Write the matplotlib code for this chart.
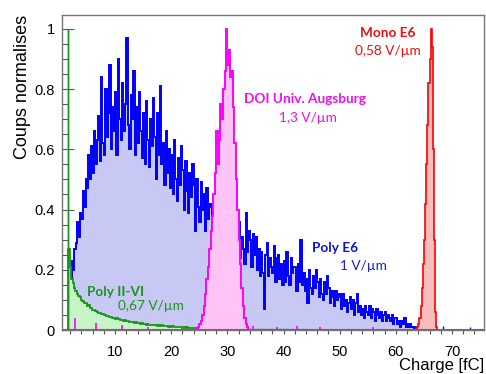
import numpy as np
import matplotlib.pyplot as plt

plt.rcParams['font.family'] = ['Liberation Sans', 'DejaVu Sans']

# Poly E6, 1 V/um : bins de 0.25 fC de 2 a 64 fC
poly_e6_start = 2.0
poly_e6 = [
    0.17, 0.23, 0.20, 0.27,  0.29, 0.36, 0.31, 0.39,  # 2-3
    0.37, 0.46, 0.41, 0.50,  0.47, 0.58, 0.50, 0.61,  # 4-5
    0.52, 0.66, 0.55, 0.63,  0.71, 0.56, 0.84, 0.62,  # 6-7
    0.58, 0.80, 0.64, 0.72,  0.88, 0.60, 0.74, 0.66,  # 8-9
    0.79, 0.58, 0.90, 0.70,  0.63, 0.82, 0.66, 0.75,  # 10-11
    0.97, 0.68, 0.60, 0.78,  0.70, 0.86, 0.58, 0.74,  # 12-13
    0.62, 0.79, 0.66, 0.57,  0.72, 0.55, 0.76, 0.63,  # 14-15
    0.54, 0.70, 0.61, 0.77,  0.64, 0.50, 0.72, 0.58,  # 16-17
    0.81, 0.55, 0.62, 0.48,  0.66, 0.52, 0.60, 0.47,  # 18-19
    0.58, 0.45, 0.63, 0.50,  0.43, 0.57, 0.48, 0.61,  # 20-21
    0.53, 0.40, 0.56, 0.46,  0.39, 0.52, 0.44, 0.55,  # 22-23
    0.48, 0.33, 0.50, 0.41,  0.36, 0.49, 0.40, 0.45,  # 24-25
    0.33, 0.47, 0.37, 0.42,  0.41, 0.31, 0.44, 0.35,  # 26-27
    0.30, 0.40, 0.33, 0.38,  0.37, 0.29, 0.35, 0.30,  # 28-29
    0.28, 0.35, 0.31, 0.36,  0.34, 0.26, 0.33, 0.29,  # 30-31
    0.36, 0.24, 0.31, 0.27,  0.22, 0.39, 0.26, 0.33,  # 32-33
    0.30, 0.21, 0.32, 0.25,  0.31, 0.20, 0.27, 0.18,  # 34-35
    0.26, 0.19, 0.07, 0.25,  0.29, 0.18, 0.24, 0.21,  # 36-37
    0.19, 0.28, 0.16, 0.24,  0.25, 0.17, 0.22, 0.15,  # 38-39
    0.23, 0.16, 0.26, 0.18,  0.15, 0.24, 0.19, 0.21,  # 40-41
    0.21, 0.13, 0.22, 0.16,  0.30, 0.15, 0.19, 0.13,  # 42-43
    0.17, 0.09, 0.20, 0.14,  0.12, 0.18, 0.14, 0.20,  # 44-45
    0.16, 0.11, 0.17, 0.12,  0.10, 0.16, 0.12, 0.18,  # 46-47
    0.14, 0.09, 0.13, 0.11,  0.08, 0.13, 0.10, 0.12,  # 48-49
    0.11, 0.07, 0.12, 0.08,  0.10, 0.06, 0.09, 0.11,  # 50-51
    0.07, 0.10, 0.05, 0.09,  0.12, 0.06, 0.08, 0.05,  # 52-53
    0.07, 0.04, 0.08, 0.06,  0.05, 0.08, 0.04, 0.07,  # 54-55
    0.06, 0.03, 0.07, 0.05,  0.04, 0.06, 0.03, 0.05,  # 56-57
    0.06, 0.03, 0.05, 0.04,  0.03, 0.05, 0.02, 0.04,  # 58-59
    0.04, 0.02, 0.03, 0.01,  0.03, 0.02, 0.04, 0.01,  # 60-61
    0.02, 0.01, 0.02, 0.01,  0.01, 0.00, 0.01, 0.00,  # 62-63
]
poly_e6_blip_x = [68.4, 73.2]
poly_e6_blip_y = [0.012, 0.010]

# Poly II-VI, 0.67 V/um : pic a 1.6 fC puis bins de 0.25 fC
poly_26_spike = 1.0
poly_26_start = 1.7
poly_26 = [
    0.27, 0.21, 0.17, 0.155, 0.14, 0.128, 0.12, 0.112, 0.108, 0.100,
    0.097, 0.090, 0.088, 0.080, 0.082, 0.074, 0.072, 0.068, 0.066, 0.063,
    0.060, 0.058, 0.057, 0.052, 0.053, 0.049, 0.050, 0.046, 0.045, 0.043,
    0.044, 0.040, 0.041, 0.038, 0.039, 0.035, 0.036, 0.033, 0.034, 0.031,
    0.032, 0.029, 0.031, 0.027, 0.028, 0.026, 0.027, 0.024, 0.025, 0.022,
    0.024, 0.021, 0.022, 0.019, 0.021, 0.018, 0.020, 0.017, 0.018, 0.016,
    0.017, 0.015, 0.016, 0.014, 0.015, 0.013, 0.015, 0.012, 0.014, 0.012,
    0.013, 0.011, 0.012, 0.010, 0.012, 0.010, 0.011, 0.009, 0.011, 0.009,
    0.010, 0.008, 0.010, 0.008, 0.009, 0.007, 0.008, 0.006, 0.007, 0.005,
    0.006, 0.004, 0.005, 0.003,
]
poly_26_tail = [  # bins de 0.5 fC
    0.004, 0.002, 0.003, 0.001, 0.004, 0.002, 0.003, 0.002, 0.004, 0.001,
    0.003, 0.002, 0.004, 0.002, 0.003, 0.001, 0.003, 0.002, 0.004, 0.001,
    0.003, 0.002, 0.003, 0.001, 0.002, 0.003, 0.001, 0.002, 0.003, 0.001,
    0.002, 0.001, 0.002, 0.001, 0.002, 0.000, 0.002, 0.001, 0.001, 0.000,
    0.001, 0.000,
]

# DOI Univ. Augsburg, 1.3 V/um : bins de 0.25 fC de 24.5 a 33.75 fC
doi_start = 24.5
doi = [
    0.005, 0.01, 0.02, 0.03, 0.05, 0.08, 0.12, 0.17, 0.21, 0.27,
    0.33, 0.38, 0.45, 0.52, 0.66, 0.55, 0.63, 0.75, 0.70, 0.80,
    0.86, 1.00, 0.88, 0.93, 0.84, 0.86, 0.74, 0.62, 0.50, 0.40,
    0.30, 0.22, 0.14, 0.08, 0.04, 0.02, 0.01,
]
doi_spike_x = [2.9, 6.6, 11.3, 15.9, 34.6, 38.8, 42.4, 46.5, 56.0]
doi_spike_y = [0.040, 0.023, 0.017, 0.010, 0.012, 0.010, 0.012, 0.010, 0.010]

# Mono E6, 0.58 V/um : bins de 0.2 fC de 63.6 a 67.6 fC
mono_start = 63.6
mono = [
    0.005, 0.01, 0.02, 0.04, 0.08, 0.14, 0.22, 0.30, 0.42, 0.55,
    0.68, 0.82, 0.90, 1.00, 0.94, 0.60, 0.30, 0.06, 0.01, 0.00,
]


def edges(start, values, width):
    return start + width * np.arange(len(values) + 1)


def histo(ax, vals, e, line, fill, z, lw=1.0):
    ax.stairs(vals, e, fill=True, color=fill, lw=0, zorder=z)
    ax.stairs(vals, e, color=line, lw=lw, zorder=z + 0.5)


fig = plt.figure(figsize=(4.86, 3.74), dpi=100)
ax = fig.add_axes([62 / 486, 1 - 330 / 374, 422 / 486, 315 / 374])

histo(ax, poly_e6, edges(poly_e6_start, poly_e6, 0.25), '#0000ff', '#c8c8f5', 2, lw=1.4)
ax.vlines(poly_e6_blip_x, 0, poly_e6_blip_y, color='#0000ff', lw=1.0, zorder=2.5)

histo(ax, [poly_26_spike], [1.6, poly_26_start], '#199619', '#c8f5c8', 3)
histo(ax, poly_26, edges(poly_26_start, poly_26, 0.25), '#199619', '#c8f5c8', 3, lw=1.3)
tail_start = poly_26_start + 0.25 * len(poly_26)
histo(ax, poly_26_tail, edges(tail_start, poly_26_tail, 0.5), '#199619', '#c8f5c8', 3)

histo(ax, mono, edges(mono_start, mono, 0.2), '#ff0000', '#f7bcbc', 4, lw=1.2)

histo(ax, doi, edges(doi_start, doi, 0.25), '#ff00ff', '#ffc4f5', 5, lw=1.4)
ax.vlines(doi_spike_x, 0, doi_spike_y, color='#ff00ff', lw=1.2, zorder=5.5)
ax.axhline(0, color='#ff00ff', lw=1.5, zorder=6)

ax.set_xlim(0.55, 75.7)
ax.set_ylim(0, 1.046)

ax.set_xticks(np.arange(10, 71, 10))
ax.set_xticks(np.arange(2, 76, 2), minor=True)
ax.set_yticks([0, 0.2, 0.4, 0.6, 0.8, 1.0])
ax.set_yticklabels(['0', '0.2', '0.4', '0.6', '0.8', '1'])
ax.set_yticks(np.arange(0, 1.04, 0.05), minor=True)
ax.tick_params(axis='y', which='major', direction='in', length=8.6, width=0.8,
               color='#555555', labelsize=10.5, pad=5)
ax.tick_params(axis='y', which='minor', direction='in', length=4.3, width=0.8,
               color='#555555')
ax.tick_params(axis='x', which='both', direction='out', length=3, width=0.8,
               color='#555555', labelsize=10.5, pad=8)
for s in ax.spines.values():
    s.set_color('#777777')
    s.set_linewidth(1.0)

ax.set_ylabel('Coups normalises', fontsize=13, loc='top', labelpad=3)
ax.set_xlabel('Charge [fC]', fontsize=12, loc='right', labelpad=-1)

lab = dict(family=['Lato', 'DejaVu Sans'], ha='center', va='center', zorder=10)
ax.text(58.6, 0.987, 'Mono E6', color='#e81010', fontsize=9.8, weight='bold', **lab)
ax.text(58.5, 0.927, '0,58 V/µm', color='#e81010', fontsize=9.8, **lab)
ax.text(43.8, 0.767, 'DOI Univ. Augsburg', color='#ee10ee', fontsize=9.8, weight='bold', **lab)
ax.text(44.4, 0.704, '1,3 V/µm', color='#ee10ee', fontsize=9.8, **lab)
ax.text(49.2, 0.272, 'Poly E6', color='#1010e0', fontsize=9.8, weight='bold', **lab)
ax.text(54.2, 0.213, '1 V/µm', color='#2020c8', fontsize=9.8, **lab)
ax.text(10.0, 0.126, 'Poly II-VI', color='#199619', fontsize=9.8, weight='bold', **lab)
ax.text(16.3, 0.080, '0,67 V/µm', color='#199619', fontsize=9.8, **lab)

fig.savefig('out.png', dpi=100)
